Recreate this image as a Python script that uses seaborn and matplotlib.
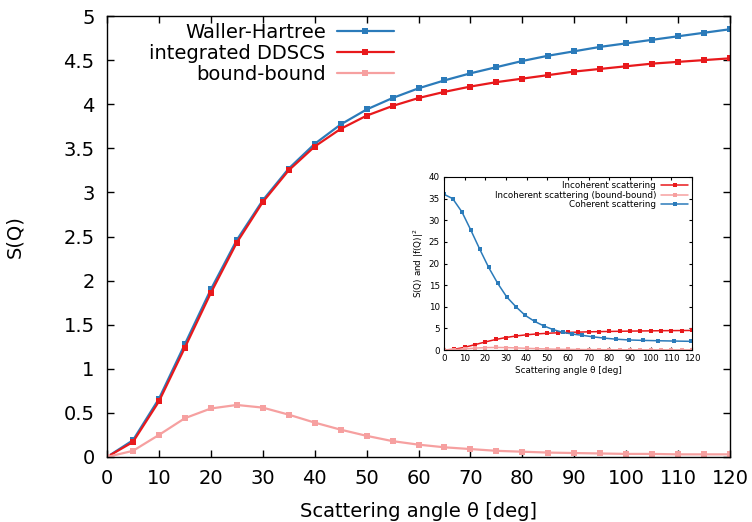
import numpy as np
import pandas as pd
import matplotlib
matplotlib.use("Agg")
import matplotlib.pyplot as plt
import seaborn as sns
from matplotlib.ticker import MultipleLocator, FuncFormatter

# ---------------- data ----------------
theta = [0, 5, 10, 15, 20, 25, 30, 35, 40, 45, 50, 55, 60, 65, 70, 75, 80, 85,
         90, 95, 100, 105, 110, 115, 120]
waller_hartree = [0.0, 0.19, 0.66, 1.28, 1.90, 2.46, 2.91, 3.27, 3.55, 3.77, 3.94,
                  4.07, 4.18, 4.27, 4.35, 4.42, 4.49, 4.55, 4.60, 4.65, 4.69, 4.73,
                  4.77, 4.81, 4.85]
integrated_ddscs = [0.0, 0.17, 0.63, 1.24, 1.86, 2.43, 2.89, 3.25, 3.52, 3.72, 3.87,
                    3.98, 4.07, 4.14, 4.20, 4.25, 4.29, 4.33, 4.37, 4.40, 4.43, 4.46,
                    4.48, 4.50, 4.52]
bound_bound = [0.0, 0.07, 0.25, 0.44, 0.55, 0.59, 0.56, 0.48, 0.39, 0.31, 0.24,
               0.18, 0.14, 0.11, 0.09, 0.07, 0.06, 0.05, 0.045, 0.04, 0.035, 0.035,
               0.03, 0.03, 0.03]

coh_theta = [0, 4.2, 8.7, 12.9, 17.3, 21.6, 26.0, 30.3, 34.8, 39.3, 43.9, 48.4,
             52.9, 57.4, 61.9, 66.8, 72.0, 77.5, 83.3, 89.6, 96.4, 103.6, 111.3, 119.6]
coherent = [36.0, 35.0, 31.9, 27.8, 23.3, 19.1, 15.4, 12.3, 10.0, 8.0, 6.6, 5.55,
            4.7, 4.1, 3.7, 3.4, 3.05, 2.75, 2.5, 2.32, 2.22, 2.14, 2.07, 2.0]

labels_main = ["Waller-Hartree", "integrated DDSCS", "bound-bound"]
labels_inset = ["Incoherent scattering", "Incoherent scattering (bound-bound)",
                "Coherent scattering"]

C_BLUE = "#2b7bba"
C_RED = "#e8191c"
C_PINK = "#f6a0a0"

# ---------------- figure ----------------
sns.set_theme(style="ticks")
plt.rcParams["font.family"] = ["DejaVu Sans"]
plt.rcParams["text.color"] = "black"
plt.rcParams["axes.labelcolor"] = "black"
plt.rcParams["xtick.color"] = "black"
plt.rcParams["ytick.color"] = "black"

W, H = 752, 522
fig = plt.figure(figsize=(W / 100, H / 100), dpi=100)
ax = fig.add_axes([107 / W, 1 - 457 / H, (730 - 107) / W, (457 - 16) / H])

for vals, col, lab in [(waller_hartree, C_BLUE, labels_main[0]),
                       (integrated_ddscs, C_RED, labels_main[1]),
                       (bound_bound, C_PINK, labels_main[2])]:
    sns.lineplot(x=theta, y=vals, ax=ax, color=col, label=lab, marker="s",
                 markersize=3.8, markeredgewidth=0, linewidth=1.6)

ax.set_xlim(0, 120)
ax.set_ylim(0, 5)
ax.xaxis.set_major_locator(MultipleLocator(10))
ax.yaxis.set_major_locator(MultipleLocator(0.5))
ax.yaxis.set_major_formatter(FuncFormatter(lambda v, p: f"{v:g}"))
ax.tick_params(direction="in", top=True, right=True, length=5, width=1,
               labelsize=14, pad=9)
for s in ax.spines.values():
    s.set_visible(True)
    s.set_color("black")
    s.set_linewidth(1)
ax.set_xlabel("Scattering angle θ [deg]", fontsize=14, labelpad=10)
ax.set_ylabel("S(Q)", fontsize=14, labelpad=28)

leg = ax.legend(loc="upper right", bbox_to_anchor=(0.482, 1.016), frameon=False,
                markerfirst=False, fontsize=14, handlelength=2.9,
                labelspacing=0.12, handletextpad=0.6, borderpad=0.2)

# ---------------- inset ----------------
ins = fig.add_axes([444 / W, 1 - 350 / H, 248 / W, 173 / H])
sns.lineplot(x=theta, y=integrated_ddscs, ax=ins, color=C_RED, label=labels_inset[0],
             marker="s", markersize=2.2, markeredgewidth=0, linewidth=1.1)
sns.lineplot(x=theta, y=bound_bound, ax=ins, color=C_PINK, label=labels_inset[1],
             marker="s", markersize=2.2, markeredgewidth=0, linewidth=1.1)
sns.lineplot(x=coh_theta, y=coherent, ax=ins, color=C_BLUE, label=labels_inset[2],
             marker="s", markersize=2.2, markeredgewidth=0, linewidth=1.1)
ins.set_xlim(0, 120)
ins.set_ylim(0, 40)
ins.xaxis.set_major_locator(MultipleLocator(10))
ins.yaxis.set_major_locator(MultipleLocator(5))
ins.tick_params(direction="in", top=True, right=True, length=2.5, width=0.8,
                labelsize=6.3, pad=3)
for s in ins.spines.values():
    s.set_visible(True)
    s.set_color("black")
    s.set_linewidth(0.8)
ins.set_xlabel("Scattering angle θ [deg]", fontsize=6.3, labelpad=2)
ins.set_ylabel("S(Q) and |f(Q)|$^2$", fontsize=6.3, labelpad=2)
ins.legend(loc="upper right", frameon=False, markerfirst=False, fontsize=6.3,
           handlelength=3.0, labelspacing=0.05, handletextpad=0.6, borderpad=0.3,
           borderaxespad=0.2)

fig.savefig("out.png", dpi=100, facecolor="white")
